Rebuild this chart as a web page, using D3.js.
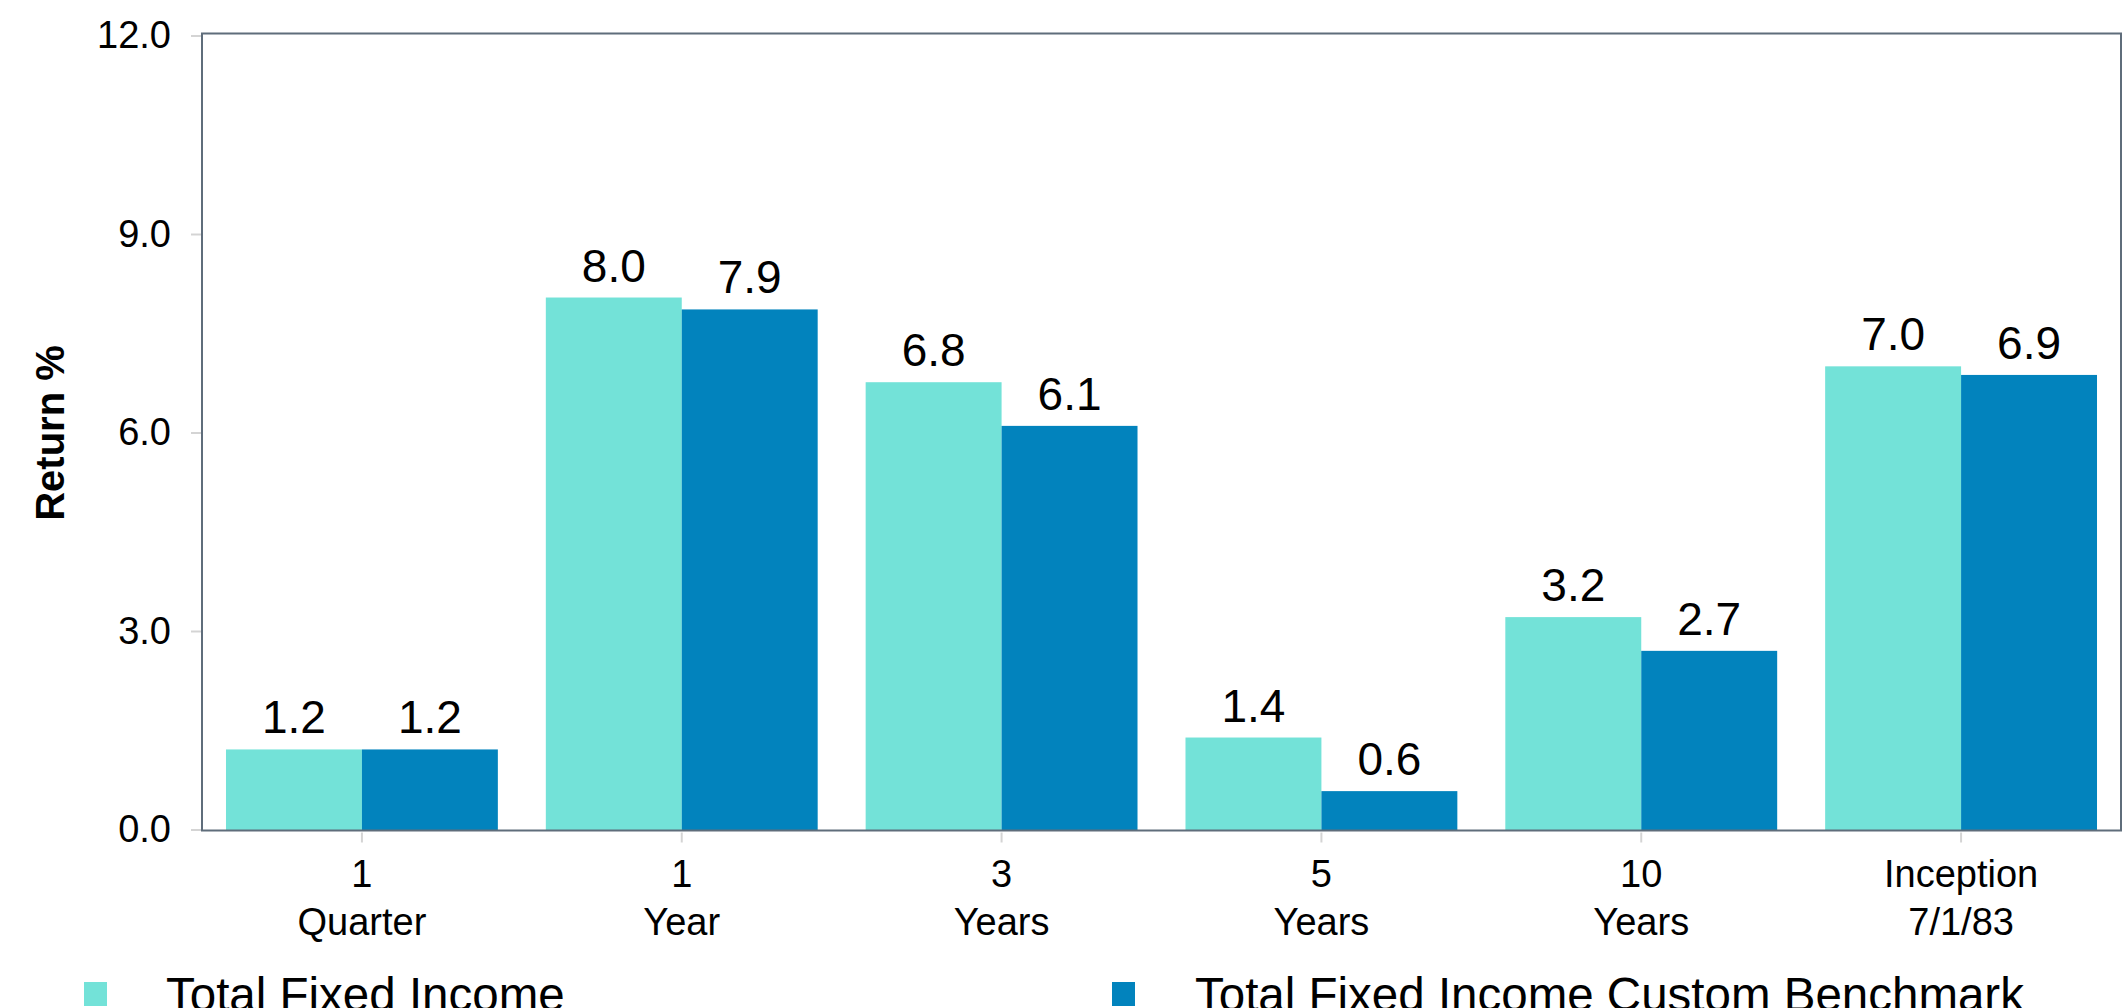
<!DOCTYPE html>
<html>
<head>
<meta charset="utf-8">
<script src="https://cdn.jsdelivr.net/npm/d3@7"></script>
<style>
  html, body { margin: 0; padding: 0; background: #ffffff; overflow: hidden; }
  svg { display: block; }
  text { font-family: "Liberation Sans", Arial, Helvetica, sans-serif; fill: #000; }
</style>
</head>
<body>
<svg id="chart" width="2127" height="1008"></svg>
<script>
// ---- Data ----
const categoryTop = ["1", "1", "3", "5", "10", "Inception"];
const categoryBottom = ["Quarter", "Year", "Years", "Years", "Years", "7/1/83"];
const seriesNames = ["Total Fixed Income", "Total Fixed Income Custom Benchmark"];
const seriesColors = ["#73e2d8", "#0283bd"];
const totalFixedIncome = [1.21, 8.04, 6.76, 1.39, 3.21, 7.00];
const customBenchmark = [1.21, 7.86, 6.10, 0.58, 2.70, 6.87];
const yTicks = [0, 3, 6, 9, 12];
const yTitle = "Return %";

(function () {
// ---- Layout ----
const svg = d3.select("#chart");
const plotLeft = 202, plotRight = 2121, plotTop = 33.5, plotBottom = 830.5;
const yZero = 829.5, yMaxPx = 35.5;

const x = d3.scaleBand()
  .domain(categoryTop.map((d, i) => i))
  .range([plotLeft, plotRight])
  .paddingInner(0.15)
  .paddingOuter(0.075);

const x1 = d3.scaleBand()
  .domain([0, 1])
  .range([0, x.bandwidth()]);

const y = d3.scaleLinear().domain([0, 12]).range([yZero, yMaxPx]);

const series = [totalFixedIncome, customBenchmark];

// ---- Bars ----
const groups = svg.append("g").selectAll("g")
  .data(categoryTop.map((d, i) => i))
  .join("g")
  .attr("transform", i => `translate(${x(i)},0)`);

groups.selectAll("rect")
  .data(i => series.map((s, k) => ({ k, v: s[i] })))
  .join("rect")
  .attr("x", d => x1(d.k))
  .attr("width", x1.bandwidth())
  .attr("y", d => y(d.v))
  .attr("height", d => plotBottom - y(d.v))
  .attr("fill", d => seriesColors[d.k]);

groups.selectAll("text.val")
  .data(i => series.map((s, k) => ({ k, v: s[i] })))
  .join("text")
  .attr("class", "val")
  .attr("x", d => x1(d.k) + x1.bandwidth() / 2)
  .attr("y", d => y(d.v) - 16)
  .attr("text-anchor", "middle")
  .style("font-size", "46px")
  .text(d => d.v.toFixed(1));

// ---- Y axis ----
const yAxis = d3.axisLeft(y)
  .tickValues(yTicks)
  .tickFormat(d3.format(".1f"))
  .tickSize(11)
  .tickPadding(20);

const gy = svg.append("g")
  .attr("transform", `translate(${plotLeft},0)`)
  .call(yAxis);
gy.select(".domain").remove();
gy.selectAll(".tick line").attr("stroke", "#d4d4d4").attr("stroke-width", 2).attr("x2", -11).attr("x1", -1);
gy.selectAll(".tick text").style("font-size", "38px").attr("fill", "#000");

// ---- X axis ----
const xAxis = d3.axisBottom(x)
  .tickSize(12)
  .tickPadding(16)
  .tickFormat(() => "");

const gx = svg.append("g")
  .attr("transform", `translate(0,${plotBottom})`)
  .call(xAxis);
gx.select(".domain").remove();
gx.selectAll(".tick line").attr("stroke", "#d4d4d4").attr("stroke-width", 2).attr("y1", 2);
gx.selectAll(".tick text").remove();
gx.selectAll(".tick").each(function(i) {
  const t = d3.select(this).append("text")
    .attr("text-anchor", "middle")
    .style("font-size", "38px");
  t.append("tspan").attr("x", 0).attr("y", 56).text(categoryTop[i]);
  t.append("tspan").attr("x", 0).attr("y", 104).text(categoryBottom[i]);
});

// ---- Frame ----
svg.append("rect")
  .attr("x", plotLeft)
  .attr("y", plotTop)
  .attr("width", plotRight - plotLeft)
  .attr("height", plotBottom - plotTop)
  .attr("fill", "none")
  .attr("stroke", "#5f6d7b")
  .attr("stroke-width", 2);

// ---- Y title ----
svg.append("text")
  .attr("transform", `translate(64,433) rotate(-90)`)
  .attr("text-anchor", "middle")
  .style("font-size", "40px")
  .style("font-weight", "bold")
  .text(yTitle);

// ---- Legend ----
const legendX = [84, 1112];
const legendTextX = [166, 1195];
const lg = svg.append("g").selectAll("g")
  .data(seriesNames.map((n, k) => k))
  .join("g");
lg.append("rect")
  .attr("x", k => legendX[k])
  .attr("y", 982)
  .attr("width", 23)
  .attr("height", 24)
  .attr("fill", k => seriesColors[k]);
lg.append("text")
  .attr("x", k => legendTextX[k])
  .attr("y", 1011)
  .style("font-size", "47.5px")
  .text(k => seriesNames[k]);
})();
</script>
</body>
</html>
